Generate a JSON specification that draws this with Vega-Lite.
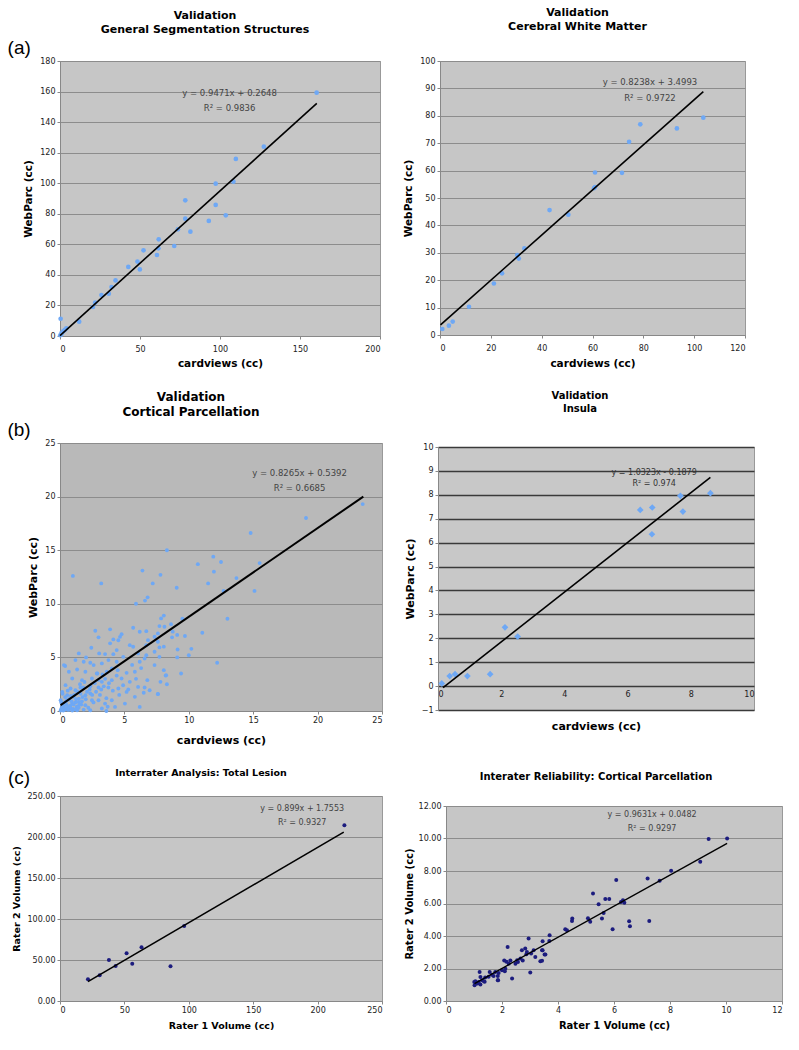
{
  "$schema": "https://vega.github.io/schema/vega-lite/v6.json",
  "padding": {"left": 6, "top": 6, "right": 5, "bottom": 5},
  "background": "white",
  "config": {
    "font": "DejaVu Sans",
    "view": {"stroke": "#999999", "fill": "#c6c6c6"},
    "axis": {"labelFont": "DejaVu Sans", "labelFontSize": 8, "labelColor": "#222222", "titleFont": "DejaVu Sans", "titleFontWeight": "bold", "titleFontSize": 10.5, "titleColor": "#000000", "domainColor": "#888888", "tickColor": "#888888", "tickSize": 3, "gridColor": "#8c8c8c", "labelPadding": 2, "titlePadding": 6},
    "axisX": {"grid": false},
    "axisY": {"grid": true},
    "title": {"font": "DejaVu Sans", "fontWeight": "bold", "color": "#000000", "anchor": "middle"}
  },
  "datasets": {
    "a1": [{"x":0.4,"y":11.3},{"x":0.2,"y":0.5},{"x":1,"y":2},{"x":2,"y":3},{"x":3,"y":4},{"x":4,"y":5},{"x":0.8,"y":1},{"x":12,"y":9.4},{"x":20.6,"y":19},{"x":22,"y":21.8},{"x":25.9,"y":26.8},{"x":30.5,"y":27.7},{"x":32.2,"y":32},{"x":34.7,"y":36.4},{"x":42.7,"y":45.2},{"x":48.4,"y":48.7},{"x":49.9,"y":43.6},{"x":52.2,"y":56.1},{"x":60.6,"y":53},{"x":61.5,"y":57.4},{"x":61.7,"y":63.3},{"x":71.4,"y":58.9},{"x":73.7,"y":69.8},{"x":78.3,"y":76.8},{"x":78.3,"y":88.8},{"x":81.5,"y":68.3},{"x":93,"y":75.3},{"x":97.3,"y":85.8},{"x":97.3,"y":99.7},{"x":103.6,"y":79},{"x":108.4,"y":101},{"x":109.9,"y":115.9},{"x":127.4,"y":123.9},{"x":160.4,"y":159.3}],
    "a1l": [{"x":0,"y":0.3},{"x":160.5,"y":152.3}],
    "a2": [{"x":0.9,"y":2.2},{"x":3.5,"y":3.4},{"x":5,"y":4.9},{"x":11.4,"y":10.3},{"x":21.2,"y":18.8},{"x":24.4,"y":22.5},{"x":30.4,"y":29.2},{"x":31,"y":27.9},{"x":33.2,"y":31.6},{"x":43.1,"y":45.6},{"x":50.5,"y":43.9},{"x":60.6,"y":53.6},{"x":61,"y":54},{"x":61,"y":59.3},{"x":71.6,"y":59.2},{"x":74.4,"y":70.5},{"x":78.8,"y":76.9},{"x":93.2,"y":75.4},{"x":103.6,"y":79.3}],
    "a2l": [{"x":0.2,"y":3.7},{"x":103.6,"y":88.8}],
    "b1": [{"x":23.5,"y":19.3},{"x":19.1,"y":18},{"x":14.8,"y":16.6},{"x":15.5,"y":13.8},{"x":15.1,"y":11.2},{"x":13.7,"y":12.4},{"x":13,"y":8.6},{"x":11.9,"y":14.4},{"x":11.95,"y":13},{"x":12.5,"y":13.9},{"x":12.7,"y":11.2},{"x":12.2,"y":4.5},{"x":11.5,"y":11.9},{"x":10.7,"y":13.7},{"x":11.05,"y":7.3},{"x":10.2,"y":5.8},{"x":10,"y":5.2},{"x":9.5,"y":8.6},{"x":9.7,"y":7},{"x":9.4,"y":3.5},{"x":9.1,"y":7.1},{"x":9.1,"y":5},{"x":9.06,"y":11.5},{"x":8.3,"y":15},{"x":8.06,"y":8.9},{"x":8.2,"y":3.3},{"x":8.3,"y":2.5},{"x":7.8,"y":12.7},{"x":7.2,"y":11.9},{"x":6.4,"y":13.1},{"x":6.8,"y":10.6},{"x":6.6,"y":10.3},{"x":5.9,"y":10},{"x":3.2,"y":11.9},{"x":1.0,"y":12.6},{"x":0.4,"y":4.2},{"x":7.6,"y":1.6},{"x":3.6,"y":0},
      {"x":7.85,"y":8.64},{"x":8.62,"y":8.1},{"x":5.68,"y":7.77},{"x":6.19,"y":7.39},{"x":6.7,"y":7.45},{"x":4.78,"y":7.17},{"x":4.66,"y":6.92},{"x":7.72,"y":7.92},{"x":8.11,"y":7.86},{"x":8.75,"y":7.4},{"x":7.34,"y":6.93},{"x":6.83,"y":6.61},{"x":7.6,"y":6.46},{"x":4.53,"y":6.6},{"x":4.4,"y":5.68},{"x":5.42,"y":6.14},{"x":5.68,"y":5.99},{"x":6.7,"y":6.14},{"x":8.7,"y":6.87},{"x":7.72,"y":5.93},{"x":9.13,"y":5.74},{"x":4.14,"y":5.3},{"x":4.91,"y":5.05},{"x":6.57,"y":4.9},{"x":7.72,"y":5.05},
      {"x":3.89,"y":7.62},{"x":2.74,"y":7.49},{"x":2.99,"y":6.87},{"x":3.89,"y":6.31},{"x":2.43,"y":5.9},{"x":3.04,"y":5.37},{"x":3.5,"y":5.31},{"x":6.06,"y":5.37},{"x":6.7,"y":5.21},{"x":7.34,"y":5.53},{"x":8.06,"y":6.0},{"x":7.6,"y":7.24},{"x":4.14,"y":6.68},{"x":1.46,"y":5.37},{"x":2.02,"y":5.0},{"x":1.2,"y":4.75},{"x":1.84,"y":4.59},{"x":2.35,"y":4.5},{"x":2.61,"y":4.28},{"x":3.25,"y":4.44},{"x":3.76,"y":4.75},{"x":4.4,"y":4.59},{"x":6.19,"y":4.59},{"x":7.34,"y":4.28},{"x":8.06,"y":3.81},{"x":8.24,"y":3.34},{"x":7.8,"y":2.72},{"x":6.78,"y":2.88},{"x":5.81,"y":3.66},{"x":5.17,"y":3.56},{"x":4.48,"y":3.81},{"x":4.02,"y":3.97},{"x":3.63,"y":3.66},{"x":2.86,"y":3.5},{"x":1.97,"y":3.66},{"x":1.33,"y":3.87},{"x":0.69,"y":3.66},{"x":0.31,"y":4.28},{"x":0.95,"y":3.03},{"x":1.71,"y":2.88},{"x":2.48,"y":3.03},{"x":3.25,"y":2.72},{"x":4.02,"y":2.88},{"x":4.78,"y":3.03},{"x":5.42,"y":2.72},{"x":6.06,"y":2.25},{"x":6.57,"y":2.19},{"x":6.96,"y":1.94},{"x":7.6,"y":1.57},{"x":5.81,"y":1.32},{"x":5.17,"y":1.78},{"x":4.53,"y":2.1},{"x":3.76,"y":2.19},{"x":2.99,"y":2.19},{"x":2.35,"y":2.31},{"x":0.43,"y":2.41},{"x":0.82,"y":2.1},{"x":1.2,"y":1.94},{"x":1.59,"y":2.19},{"x":0.18,"y":1.78},{"x":0.56,"y":1.47},{"x":1.07,"y":1.32},{"x":1.46,"y":1.16},{"x":1.97,"y":1.47},{"x":2.35,"y":1.63},{"x":0.05,"y":1.0},{"x":0.43,"y":0.85},{"x":0.95,"y":0.69},{"x":1.46,"y":0.85},{"x":1.97,"y":0.54},{"x":2.48,"y":1.0},{"x":2.99,"y":1.0},{"x":3.5,"y":0.69},{"x":0.31,"y":0.38},{"x":0.82,"y":0.23},{"x":1.33,"y":0.07},{"x":1.84,"y":0.13},{"x":2.35,"y":0.07},{"x":3.25,"y":0.23},{"x":4.02,"y":1.0},{"x":4.27,"y":0.38},{"x":5.04,"y":0.69},{"x":6.19,"y":0.38},
      {"x":0.1,"y":0.2},{"x":0.2,"y":0.5},{"x":0.3,"y":0.1},{"x":0.5,"y":0.6},{"x":0.6,"y":0.3},{"x":0.7,"y":1.1},{"x":0.8,"y":0.5},{"x":0.9,"y":0.9},{"x":1.0,"y":0.2},{"x":1.1,"y":1.5},{"x":1.2,"y":0.8},{"x":1.3,"y":0.4},{"x":0.4,"y":1.3},{"x":0.2,"y":1.6},{"x":0.1,"y":0.8},{"x":0.6,"y":1.9},{"x":1.5,"y":0.6},{"x":1.6,"y":1.6},{"x":1.7,"y":0.9},{"x":1.8,"y":2.2},{"x":2.0,"y":1.1},{"x":2.1,"y":1.8},{"x":2.2,"y":0.3},{"x":2.5,"y":1.5},{"x":2.7,"y":2.6},{"x":2.8,"y":1.8},{"x":3.0,"y":2.9},{"x":3.1,"y":1.5},{"x":3.3,"y":3.4},{"x":3.4,"y":2.3},{"x":3.6,"y":1.2},{"x":3.8,"y":2.6},{"x":4.1,"y":1.9},{"x":4.4,"y":3.3},{"x":4.6,"y":1.5},{"x":4.9,"y":2.4},{"x":5.3,"y":2.0},{"x":5.6,"y":4.3},{"x":5.9,"y":3.0},{"x":6.3,"y":4.0},{"x":6.5,"y":1.7},{"x":0.05,"y":0.05},{"x":0.15,"y":0.3},{"x":0.25,"y":0.05},{"x":0.35,"y":0.7},{"x":0.45,"y":0.15},{"x":0.55,"y":1.0},{"x":0.65,"y":0.1},{"x":0.75,"y":0.4},{"x":0.85,"y":1.4},{"x":0.95,"y":0.05},{"x":1.05,"y":0.6},{"x":1.15,"y":0.15},{"x":1.25,"y":1.1},{"x":1.35,"y":1.8},{"x":1.45,"y":0.3},{"x":1.55,"y":2.5},{"x":1.65,"y":0.6},{"x":1.75,"y":1.3},{"x":1.9,"y":2.7},{"x":2.3,"y":2.0},{"x":2.6,"y":0.8},{"x":2.9,"y":3.5},{"x":3.2,"y":2.0},{"x":3.5,"y":3.0},{"x":3.7,"y":0.4}],
    "b1l": [{"x":0.05,"y":0.55},{"x":23.55,"y":20.0}],
    "b2": [{"x":0.12,"y":0.11},{"x":0.37,"y":0.42},{"x":0.54,"y":0.5},{"x":0.93,"y":0.42},{"x":1.65,"y":0.5},{"x":2.12,"y":2.46},{"x":2.52,"y":2.07},{"x":6.4,"y":7.37},{"x":6.78,"y":7.47},{"x":6.77,"y":6.35},{"x":7.67,"y":7.96},{"x":7.75,"y":7.3},{"x":8.62,"y":8.07}],
    "b2l": [{"x":0.16,"y":-0.06},{"x":8.62,"y":8.73}],
    "c1": [{"x":21.7,"y":26.4},{"x":30.8,"y":31.3},{"x":38,"y":50},{"x":43.2,"y":42.7},{"x":51.7,"y":58.1},{"x":56.1,"y":45.5},{"x":63.3,"y":65.4},{"x":85.8,"y":42.3},{"x":96.4,"y":91.5},{"x":220.8,"y":214.2}],
    "c1l": [{"x":21.7,"y":23.6},{"x":220.3,"y":206}],
    "c2": [{"x":9.38,"y":9.97},{"x":10.04,"y":10.0},{"x":9.08,"y":8.57},{"x":8.04,"y":8.01},{"x":7.63,"y":7.4},{"x":7.2,"y":7.54},{"x":6.08,"y":7.44},{"x":5.25,"y":6.62},{"x":5.45,"y":5.96},{"x":5.69,"y":6.27},{"x":5.83,"y":6.27},{"x":6.25,"y":6.1},{"x":6.32,"y":6.2},{"x":6.37,"y":6.04},{"x":5.63,"y":5.42},{"x":5.57,"y":5.07},{"x":5.07,"y":5.1},{"x":5.15,"y":4.87},{"x":5.95,"y":4.42},{"x":6.54,"y":4.91},{"x":6.57,"y":4.6},{"x":7.26,"y":4.93},{"x":4.51,"y":5.07},{"x":4.5,"y":4.93},{"x":4.26,"y":4.42},{"x":4.32,"y":4.36},{"x":3.7,"y":4.05},{"x":3.69,"y":3.7},{"x":3.45,"y":3.68},{"x":3.45,"y":3.12},{"x":3.52,"y":2.86},{"x":3.37,"y":2.45},{"x":2.95,"y":3.84},{"x":3.13,"y":3.12},{"x":3.19,"y":2.71},{"x":3.04,"y":2.92},{"x":2.83,"y":3.23},{"x":2.87,"y":2.88},{"x":2.71,"y":3.12},{"x":2.74,"y":2.5},{"x":2.48,"y":2.3},{"x":2.57,"y":2.4},{"x":3.01,"y":1.75},{"x":2.2,"y":3.33},{"x":2.08,"y":2.5},{"x":2.24,"y":2.3},{"x":2.3,"y":2.5},{"x":2.12,"y":1.99},{"x":2.0,"y":1.89},{"x":2.1,"y":1.83},{"x":2.36,"y":1.38},{"x":1.88,"y":1.73},{"x":1.85,"y":1.54},{"x":1.85,"y":1.27},{"x":1.76,"y":1.79},{"x":1.64,"y":1.62},{"x":1.52,"y":1.5},{"x":1.4,"y":1.44},{"x":1.2,"y":1.79},{"x":1.23,"y":1.48},{"x":1.29,"y":1.27},{"x":1.17,"y":1.17},{"x":1.07,"y":1.07},{"x":1.02,"y":0.97},{"x":1.13,"y":1.07},{"x":1.38,"y":1.19},{"x":1.01,"y":1.17},{"x":1.56,"y":1.79},{"x":1.7,"y":1.54},{"x":1.86,"y":1.27},{"x":1.35,"y":1.21},{"x":1.05,"y":1.21},{"x":1.23,"y":1.01},{"x":2.66,"y":2.61},{"x":2.54,"y":2.51},{"x":2.16,"y":2.41},{"x":3.43,"y":3.12},{"x":3.55,"y":2.86},{"x":3.43,"y":2.47},{"x":2.89,"y":3.02}],
    "c2l": [{"x":1.02,"y":1.07},{"x":10.04,"y":9.7}]
  },
  "columns": 2,
  "align": {"row": "none", "column": "none"},
  "bounds": "full",
  "spacing": {"row": 21, "column": 20},
  "concat": [
    {
      "width": 320, "height": 275,
      "title": {"text": ["Validation", "General Segmentation Structures"], "fontSize": 11, "lineHeight": 14, "offset": 4, "dx": -15},
      "layer": [
        {"data": {"name": "a1"}, "mark": {"type": "circle", "size": 22, "color": "#6ea8f5", "opacity": 1},
         "encoding": {
           "x": {"field": "x", "type": "quantitative", "scale": {"domain": [0, 200], "nice": false}, "axis": {"values": [0, 50, 100, 150, 200], "title": "cardviews (cc)", "labelPadding": 6, "titlePadding": 5}},
           "y": {"field": "y", "type": "quantitative", "scale": {"domain": [0, 180], "nice": false}, "axis": {"values": [0, 20, 40, 60, 80, 100, 120, 140, 160, 180], "title": "WebParc (cc)"}}
         }},
        {"data": {"name": "a1l"}, "mark": {"type": "line", "color": "#000000", "strokeWidth": 1.6},
         "encoding": {
           "x": {"field": "x", "type": "quantitative", "scale": {"domain": [0, 200], "nice": false}, "axis": {"values": [0, 50, 100, 150, 200], "title": "cardviews (cc)", "labelPadding": 6, "titlePadding": 5}},
           "y": {"field": "y", "type": "quantitative", "scale": {"domain": [0, 180], "nice": false}, "axis": {"values": [0, 20, 40, 60, 80, 100, 120, 140, 160, 180], "title": "WebParc (cc)"}}
         }},
        {"data": {"values": [{}]}, "mark": {"type": "text", "text": ["y = 0.9471x + 0.2648", "R² = 0.9836"], "fontSize": 8.5, "color": "#444444", "lineHeight": 15, "align": "center", "baseline": "middle"},
         "encoding": {
           "x": {"datum": 106, "type": "quantitative", "scale": {"domain": [0, 200], "nice": false}, "axis": {"values": [0, 50, 100, 150, 200], "title": "cardviews (cc)", "labelPadding": 6, "titlePadding": 5}},
           "y": {"datum": 159.1, "type": "quantitative", "scale": {"domain": [0, 180], "nice": false}, "axis": {"values": [0, 20, 40, 60, 80, 100, 120, 140, 160, 180], "title": "WebParc (cc)"}}
         }},
        {"data": {"values": [{}]}, "mark": {"type": "text", "text": "(a)", "font": "Liberation Sans", "fontSize": 19, "color": "#000000", "align": "center", "baseline": "middle"},
         "encoding": {
           "x": {"datum": -25.5, "type": "quantitative", "scale": {"domain": [0, 200], "nice": false}, "axis": {"values": [0, 50, 100, 150, 200], "title": "cardviews (cc)", "labelPadding": 6, "titlePadding": 5}},
           "y": {"datum": 188.5, "type": "quantitative", "scale": {"domain": [0, 180], "nice": false}, "axis": {"values": [0, 20, 40, 60, 80, 100, 120, 140, 160, 180], "title": "WebParc (cc)"}}
         }}
      ]
    },
    {
      "width": 305, "height": 274,
      "title": {"text": ["Validation", "Cerebral White Matter"], "fontSize": 11, "lineHeight": 14, "offset": 25, "dx": -15},
      "layer": [
        {"data": {"name": "a2"}, "mark": {"type": "circle", "size": 22, "color": "#6ea8f5", "opacity": 1},
         "encoding": {
           "x": {"field": "x", "type": "quantitative", "scale": {"domain": [0, 120], "nice": false}, "axis": {"values": [0, 20, 40, 60, 80, 100, 120], "title": "cardviews (cc)", "labelPadding": 6, "titlePadding": 6}},
           "y": {"field": "y", "type": "quantitative", "scale": {"domain": [0, 100], "nice": false}, "axis": {"values": [0, 10, 20, 30, 40, 50, 60, 70, 80, 90, 100], "title": "WebParc (cc)"}}
         }},
        {"data": {"name": "a2l"}, "mark": {"type": "line", "color": "#000000", "strokeWidth": 1.6},
         "encoding": {
           "x": {"field": "x", "type": "quantitative", "scale": {"domain": [0, 120], "nice": false}, "axis": {"values": [0, 20, 40, 60, 80, 100, 120], "title": "cardviews (cc)", "labelPadding": 6, "titlePadding": 6}},
           "y": {"field": "y", "type": "quantitative", "scale": {"domain": [0, 100], "nice": false}, "axis": {"values": [0, 10, 20, 30, 40, 50, 60, 70, 80, 90, 100], "title": "WebParc (cc)"}}
         }},
        {"data": {"values": [{}]}, "mark": {"type": "text", "text": ["y = 0.8238x + 3.4993", "R² = 0.9722"], "fontSize": 8.5, "color": "#444444", "lineHeight": 16, "align": "center", "baseline": "middle"},
         "encoding": {
           "x": {"datum": 82.6, "type": "quantitative", "scale": {"domain": [0, 120], "nice": false}, "axis": {"values": [0, 20, 40, 60, 80, 100, 120], "title": "cardviews (cc)", "labelPadding": 6, "titlePadding": 6}},
           "y": {"datum": 92.3, "type": "quantitative", "scale": {"domain": [0, 100], "nice": false}, "axis": {"values": [0, 10, 20, 30, 40, 50, 60, 70, 80, 90, 100], "title": "WebParc (cc)"}}
         }}
      ]
    },
    {
      "width": 322, "height": 268,
      "view": {"fill": "#b9b9b9"},
      "title": {"text": ["Validation", "Cortical Parcellation"], "fontSize": 12, "lineHeight": 15, "offset": 2, "dx": -30},
      "layer": [
        {"data": {"name": "b1"}, "mark": {"type": "circle", "size": 15, "color": "#6ea8f5", "opacity": 1},
         "encoding": {
           "x": {"field": "x", "type": "quantitative", "scale": {"domain": [0, 25], "nice": false}, "axis": {"values": [0, 5, 10, 15, 20, 25], "title": "cardviews (cc)", "titleFontSize": 11, "titlePadding": 10}},
           "y": {"field": "y", "type": "quantitative", "scale": {"domain": [0, 25], "nice": false}, "axis": {"values": [0, 5, 10, 15, 20, 25], "title": "WebParc (cc)", "titleFontSize": 11}}
         }},
        {"data": {"name": "b1l"}, "mark": {"type": "line", "color": "#000000", "strokeWidth": 2},
         "encoding": {
           "x": {"field": "x", "type": "quantitative", "scale": {"domain": [0, 25], "nice": false}, "axis": {"values": [0, 5, 10, 15, 20, 25], "title": "cardviews (cc)", "titleFontSize": 11, "titlePadding": 10}},
           "y": {"field": "y", "type": "quantitative", "scale": {"domain": [0, 25], "nice": false}, "axis": {"values": [0, 5, 10, 15, 20, 25], "title": "WebParc (cc)", "titleFontSize": 11}}
         }},
        {"data": {"values": [{}]}, "mark": {"type": "text", "text": ["y = 0.8265x + 0.5392", "R² = 0.6685"], "fontSize": 8.5, "color": "#444444", "lineHeight": 15, "align": "center", "baseline": "middle"},
         "encoding": {
           "x": {"datum": 18.6, "type": "quantitative", "scale": {"domain": [0, 25], "nice": false}, "axis": {"values": [0, 5, 10, 15, 20, 25], "title": "cardviews (cc)", "titleFontSize": 11, "titlePadding": 10}},
           "y": {"datum": 22.2, "type": "quantitative", "scale": {"domain": [0, 25], "nice": false}, "axis": {"values": [0, 5, 10, 15, 20, 25], "title": "WebParc (cc)", "titleFontSize": 11}}
         }},
        {"data": {"values": [{}]}, "mark": {"type": "text", "text": "(b)", "font": "Liberation Sans", "fontSize": 19, "color": "#000000", "align": "center", "baseline": "middle"},
         "encoding": {
           "x": {"datum": -3.18, "type": "quantitative", "scale": {"domain": [0, 25], "nice": false}, "axis": {"values": [0, 5, 10, 15, 20, 25], "title": "cardviews (cc)", "titleFontSize": 11, "titlePadding": 10}},
           "y": {"datum": 26.2, "type": "quantitative", "scale": {"domain": [0, 25], "nice": false}, "axis": {"values": [0, 5, 10, 15, 20, 25], "title": "WebParc (cc)", "titleFontSize": 11}}
         }}
      ]
    },
    {
      "width": 316, "height": 263,
      "view": {"fill": "#c8c8c8"},
      "title": {"text": ["Validation", "Insula"], "fontSize": 10, "lineHeight": 13, "offset": 29, "dx": -16},
      "layer": [
        {"data": {"name": "b2"}, "mark": {"type": "point", "shape": "diamond", "filled": true, "size": 45, "color": "#6ea8f5", "opacity": 1},
         "encoding": {
           "x": {"field": "x", "type": "quantitative", "scale": {"domain": [0, 10], "nice": false}, "axis": {"values": [0, 2, 4, 6, 8, 10], "title": "cardviews (cc)", "offset": -24, "domain": false, "ticks": false, "labelPadding": 4, "titlePadding": 22, "titleFontSize": 11}},
           "y": {"field": "y", "type": "quantitative", "scale": {"domain": [-1, 10], "nice": false, "zero": false}, "axis": {"values": [-1, 0, 1, 2, 3, 4, 5, 6, 7, 8, 9, 10], "title": "WebParc (cc)", "gridColor": "#3a3a3a", "gridWidth": 1.6, "titleFontSize": 11}}
         }},
        {"data": {"name": "b2l"}, "mark": {"type": "line", "color": "#000000", "strokeWidth": 1.6},
         "encoding": {
           "x": {"field": "x", "type": "quantitative", "scale": {"domain": [0, 10], "nice": false}, "axis": {"values": [0, 2, 4, 6, 8, 10], "title": "cardviews (cc)", "offset": -24, "domain": false, "ticks": false, "labelPadding": 4, "titlePadding": 22, "titleFontSize": 11}},
           "y": {"field": "y", "type": "quantitative", "scale": {"domain": [-1, 10], "nice": false, "zero": false}, "axis": {"values": [-1, 0, 1, 2, 3, 4, 5, 6, 7, 8, 9, 10], "title": "WebParc (cc)", "gridColor": "#3a3a3a", "gridWidth": 1.6, "titleFontSize": 11}}
         }},
        {"data": {"values": [{}]}, "mark": {"type": "text", "text": ["y = 1.0323x - 0.1879", "R² = 0.974"], "fontSize": 8, "color": "#333333", "lineHeight": 11, "align": "center", "baseline": "middle"},
         "encoding": {
           "x": {"datum": 6.84, "type": "quantitative", "scale": {"domain": [0, 10], "nice": false}, "axis": {"values": [0, 2, 4, 6, 8, 10], "title": "cardviews (cc)", "offset": -24, "domain": false, "ticks": false, "labelPadding": 4, "titlePadding": 22, "titleFontSize": 11}},
           "y": {"datum": 8.91, "type": "quantitative", "scale": {"domain": [-1, 10], "nice": false, "zero": false}, "axis": {"values": [-1, 0, 1, 2, 3, 4, 5, 6, 7, 8, 9, 10], "title": "WebParc (cc)", "gridColor": "#3a3a3a", "gridWidth": 1.6, "titleFontSize": 11}}
         }}
      ]
    },
    {
      "width": 322, "height": 205,
      "title": {"text": "Interrater Analysis: Total Lesion", "fontSize": 9.5, "offset": -9, "dx": -20},
      "layer": [
        {"data": {"name": "c1"}, "mark": {"type": "circle", "size": 16, "color": "#1c1c7e", "opacity": 1},
         "encoding": {
           "x": {"field": "x", "type": "quantitative", "scale": {"domain": [0, 250], "nice": false}, "axis": {"values": [0, 50, 100, 150, 200, 250], "title": "Rater 1 Volume (cc)", "titleFontSize": 9.5}},
           "y": {"field": "y", "type": "quantitative", "scale": {"domain": [0, 250], "nice": false}, "axis": {"values": [0, 50, 100, 150, 200, 250], "format": ".2f", "title": "Rater 2 Volume (cc)", "titleFontSize": 9.5}}
         }},
        {"data": {"name": "c1l"}, "mark": {"type": "line", "color": "#000000", "strokeWidth": 1.6},
         "encoding": {
           "x": {"field": "x", "type": "quantitative", "scale": {"domain": [0, 250], "nice": false}, "axis": {"values": [0, 50, 100, 150, 200, 250], "title": "Rater 1 Volume (cc)", "titleFontSize": 9.5}},
           "y": {"field": "y", "type": "quantitative", "scale": {"domain": [0, 250], "nice": false}, "axis": {"values": [0, 50, 100, 150, 200, 250], "format": ".2f", "title": "Rater 2 Volume (cc)", "titleFontSize": 9.5}}
         }},
        {"data": {"values": [{}]}, "mark": {"type": "text", "text": ["y = 0.899x + 1.7553", "R² = 0.9327"], "fontSize": 8, "color": "#444444", "lineHeight": 14, "align": "center", "baseline": "middle"},
         "encoding": {
           "x": {"datum": 188, "type": "quantitative", "scale": {"domain": [0, 250], "nice": false}, "axis": {"values": [0, 50, 100, 150, 200, 250], "title": "Rater 1 Volume (cc)", "titleFontSize": 9.5}},
           "y": {"datum": 234, "type": "quantitative", "scale": {"domain": [0, 250], "nice": false}, "axis": {"values": [0, 50, 100, 150, 200, 250], "format": ".2f", "title": "Rater 2 Volume (cc)", "titleFontSize": 9.5}}
         }},
        {"data": {"values": [{}]}, "mark": {"type": "text", "text": "(c)", "font": "Liberation Sans", "fontSize": 19, "color": "#000000", "align": "center", "baseline": "middle"},
         "encoding": {
           "x": {"datum": -31.8, "type": "quantitative", "scale": {"domain": [0, 250], "nice": false}, "axis": {"values": [0, 50, 100, 150, 200, 250], "title": "Rater 1 Volume (cc)", "titleFontSize": 9.5}},
           "y": {"datum": 272, "type": "quantitative", "scale": {"domain": [0, 250], "nice": false}, "axis": {"values": [0, 50, 100, 150, 200, 250], "format": ".2f", "title": "Rater 2 Volume (cc)", "titleFontSize": 9.5}}
         }}
      ]
    },
    {
      "width": 336, "height": 195,
      "title": {"text": "Interater Reliability: Cortical Parcellation", "fontSize": 10, "offset": 24, "dy": 4, "dx": -18},
      "layer": [
        {"data": {"name": "c2"}, "mark": {"type": "circle", "size": 16, "color": "#1c1c7e", "opacity": 1},
         "encoding": {
           "x": {"field": "x", "type": "quantitative", "scale": {"domain": [0, 12], "nice": false}, "axis": {"values": [0, 2, 4, 6, 8, 10, 12], "title": "Rater 1 Volume (cc)", "titleFontSize": 10}},
           "y": {"field": "y", "type": "quantitative", "scale": {"domain": [0, 12], "nice": false}, "axis": {"values": [0, 2, 4, 6, 8, 10, 12], "format": ".2f", "title": "Rater 2 Volume (cc)", "titleFontSize": 10, "titlePadding": 4}}
         }},
        {"data": {"name": "c2l"}, "mark": {"type": "line", "color": "#000000", "strokeWidth": 1.4},
         "encoding": {
           "x": {"field": "x", "type": "quantitative", "scale": {"domain": [0, 12], "nice": false}, "axis": {"values": [0, 2, 4, 6, 8, 10, 12], "title": "Rater 1 Volume (cc)", "titleFontSize": 10}},
           "y": {"field": "y", "type": "quantitative", "scale": {"domain": [0, 12], "nice": false}, "axis": {"values": [0, 2, 4, 6, 8, 10, 12], "format": ".2f", "title": "Rater 2 Volume (cc)", "titleFontSize": 10, "titlePadding": 4}}
         }},
        {"data": {"values": [{}]}, "mark": {"type": "text", "text": ["y = 0.9631x + 0.0482", "R² = 0.9297"], "fontSize": 8, "color": "#444444", "lineHeight": 14, "align": "center", "baseline": "middle"},
         "encoding": {
           "x": {"datum": 7.36, "type": "quantitative", "scale": {"domain": [0, 12], "nice": false}, "axis": {"values": [0, 2, 4, 6, 8, 10, 12], "title": "Rater 1 Volume (cc)", "titleFontSize": 10}},
           "y": {"datum": 11.45, "type": "quantitative", "scale": {"domain": [0, 12], "nice": false}, "axis": {"values": [0, 2, 4, 6, 8, 10, 12], "format": ".2f", "title": "Rater 2 Volume (cc)", "titleFontSize": 10, "titlePadding": 4}}
         }}
      ]
    }
  ]
}
